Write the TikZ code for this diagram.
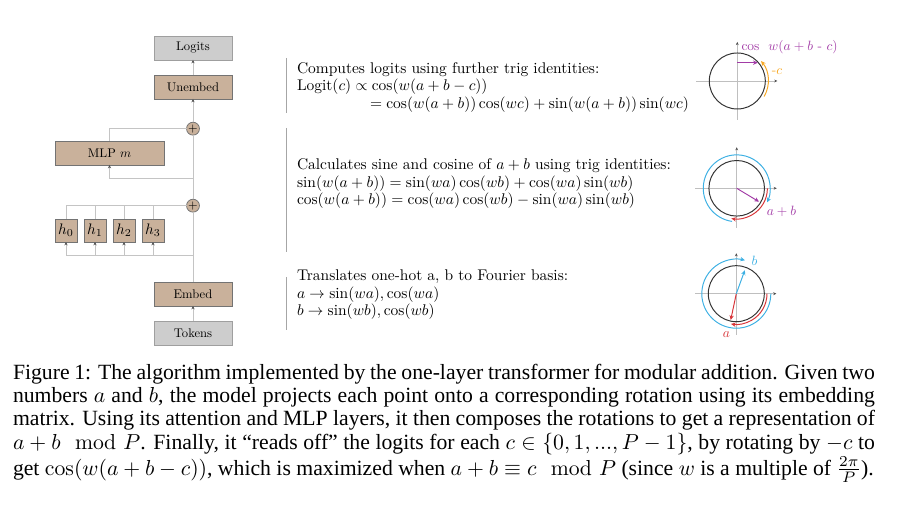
\documentclass[tikz,border=0pt]{standalone}
\usepackage{amsmath,amssymb}
\usepackage{graphicx}
\usepackage{fontspec}
\newfontfamily\capfont{Liberation Serif}
\usetikzlibrary{arrows.meta,calc}
\definecolor{boxtan}{HTML}{C9B19B}
\definecolor{boxgray}{HTML}{CDCDCD}
\definecolor{lineg}{HTML}{C4C4C4}
\definecolor{cpurple}{HTML}{A23BA6}
\definecolor{cblue}{HTML}{3DB0E3}
\definecolor{cred}{HTML}{D8363A}
\definecolor{corange}{HTML}{F7A823}
\newcommand{\bx}[1]{\scalebox{0.58}{\fontsize{10}{12}\selectfont #1}}
\newcommand{\hx}[1]{\scalebox{0.7}{\fontsize{10}{12}\selectfont #1}}
\newcommand{\tx}[1]{\scalebox{0.713}{\fontsize{10}{12}\selectfont #1}}
\newcommand{\lx}[1]{\scalebox{0.62}{\fontsize{10}{12}\selectfont #1}}
\begin{document}
\begin{tikzpicture}[x=0.4606pt,y=-0.4606pt,
  every node/.style={inner sep=0pt,outer sep=0pt},
  graybox/.style={draw=gray!75,fill=boxgray,line width=0.35pt,minimum width=35.9pt,minimum height=11.05pt},
  tanbox/.style={draw=black!55,fill=boxtan,line width=0.35pt,minimum width=35.9pt,minimum height=11.05pt},
  hbox/.style={tanbox,minimum width=10.1pt,minimum height=10.6pt},
  plusc/.style={circle,draw=black!55,fill=boxtan,line width=0.35pt,minimum size=5.1pt,font=\fontsize{4.5}{4.5}\selectfont},
  conn/.style={draw=lineg,line width=0.35pt},
  arr/.style={-{Stealth[length=1.5pt,width=1.4pt,color=black!70]}},
  txt/.style={anchor=base west},
  sepline/.style={draw=black!35,line width=0.4pt},
  axisl/.style={draw=black!25,line width=0.3pt,-{Stealth[length=1.4pt,width=1.3pt,color=black!70]}},
  ring/.style={draw=black!80,line width=0.45pt},
  rot/.style={line width=0.45pt,-{Stealth[length=2.2pt,width=2pt]}}
]
\useasboundingbox (0,0) rectangle (923,523);

% ---- left column ----
\node[graybox] (logits) at (193,48) {\bx{Logits}};
\node[tanbox] (unembed) at (193,87) {\bx{Unembed}};
\node[plusc] (p1) at (193,128.7) {+};
\node[tanbox,minimum width=50.2pt] (mlp) at (109.5,153) {\bx{MLP $m$}};
\node[plusc] (p2) at (193,205.7) {+};
\foreach \i/\x in {0/66,1/95,2/124,3/153}
  \node[hbox] (h\i) at (\x,230.5) {\hx{$h_{\i}$}};
\node[tanbox] (embed) at (193,294) {\bx{Embed}};
\node[graybox] (tokens) at (193,333) {\bx{Tokens}};

\coordinate (br1) at (193,255.7);
\coordinate (br2) at (193,178);
\draw[conn,arr] (tokens) -- (embed);
\draw[conn] (embed) -- (p2);
\draw[conn] (br1) -- (h0.south |- br1);
\foreach \i in {0,...,3} \draw[conn,arr] (h\i.south |- br1) -- (h\i.south);
\foreach \i in {0,...,3} \draw[conn] (h\i.north) -- (h\i.north |- p2);
\draw[conn] (h0.north |- p2) -- (p2.west);
\draw[conn] (p2) -- (p1);
\draw[conn,arr] (br2) -| (mlp.south);
\draw[conn] (mlp.north) |- (p1.west);
\draw[conn,arr] (p1) -- (unembed);
\draw[conn,arr] (unembed) -- (logits);

% ---- separators ----
\draw[sepline] (286.5,58) -- (286.5,113);
\draw[sepline] (286.5,128) -- (286.5,252);
\draw[sepline] (286.5,277) -- (286.5,330);

% ---- text blocks ----
\node[txt] (t11) at (297,73.3) {\tx{Computes logits using further trig identities:}};
\node[txt] (t12) at (297,90.8) {\tx{Logit$(c)\propto\cos(w(a+b-c))$}};
\node[txt] (t13) at (370,108.3) {\tx{$=\cos(w(a+b))\cos(wc)+\sin(w(a+b))\sin(wc)$}};
\node[txt] (t21) at (297,170) {\tx{Calculates sine and cosine of $a+b$ using trig identities:}};
\node[txt] (t22) at (297,187.5) {\tx{$\sin(w(a+b))=\sin(wa)\cos(wb)+\cos(wa)\sin(wb)$}};
\node[txt] (t23) at (297,205) {\tx{$\cos(w(a+b))=\cos(wa)\cos(wb)-\sin(wa)\sin(wb)$}};
\node[txt] (t31) at (297,280.7) {\tx{Translates one-hot a, b to Fourier basis:}};
\node[txt] (t32) at (297,298.2) {\tx{$a\to\sin(wa),\cos(wa)$}};
\node[txt] (t33) at (297,315.7) {\tx{$b\to\sin(wb),\cos(wb)$}};

% ---- circle 1 ----
\coordinate (c1) at (737.3,81);
\draw[axisl] ($(c1)+(-41,0)$) -- ($(c1)+(40,0)$);
\draw[axisl] ($(c1)+(0,39)$) -- ($(c1)+(0,-39)$);
\draw[ring] (c1) circle[radius=12.9pt];
\draw[rot,cpurple] ($(c1)+(0,-18.3)$) -- ($(c1)+(20.5,-18.3)$);
\draw[rot,corange] ($(c1)+(-30:14.28pt)$) arc[start angle=-30,end angle=40,radius=14.28pt];
\node[text=cpurple,anchor=base west] (lab1) at (741.5,50.5) {\lx{$\cos\ \,w(a+b$ - $c)$}};
\node[text=corange] (labc) at (777,71.5) {\lx{-$c$}};

% ---- circle 2 ----
\coordinate (c2) at (736.7,188.3);
\draw[axisl] ($(c2)+(-41.7,0)$) -- ($(c2)+(40,0)$);
\draw[axisl] ($(c2)+(0,39.7)$) -- ($(c2)+(0,-41)$);
\draw[ring] (c2) circle[radius=12.8pt];
\draw[rot,cred] ($(c2)+(0:14.14pt)$) arc[start angle=0,end angle=-100,radius=14.14pt];
\draw[rot,cblue] ($(c2)+(-98:15.4pt)$) arc[start angle=-98,end angle=-385,radius=15.4pt];
\draw[rot,cpurple] (c2) -- ++(-31:12pt);
\node[text=cpurple] (lab2) at (781.5,211.5) {\lx{$a+b$}};

% ---- circle 3 ----
\coordinate (c3) at (736.3,293.7);
\draw[axisl] ($(c3)+(-41.3,0)$) -- ($(c3)+(40,0)$);
\draw[axisl] ($(c3)+(0,41)$) -- ($(c3)+(0,-40.4)$);
\draw[ring] (c3) circle[radius=12.9pt];
\draw[rot,cred] ($(c3)+(0:14.14pt)$) arc[start angle=0,end angle=-100,radius=14.14pt];
\draw[rot,cblue] ($(c3)+(0:15.9pt)$) arc[start angle=0,end angle=-284.5,radius=15.9pt];
\draw[rot,cred] (c3) -- ++(-102:12.4pt);
\draw[rot,cblue] (c3) -- ++(70:11.5pt);
\node[text=cblue] (labb) at (754.5,261) {\lx{$b$}};
\node[text=cred] (laba) at (726.5,334.5) {\lx{$a$}};

% ---- caption ----
\node[anchor=base west] (cap) at (13,379.3) {\parbox[t]{397pt}{\fontsize{10}{10.75}\capfont
Figure 1: The algorithm implemented by the one-layer transformer for modular addition. Given two\linebreak
numbers $a$ and $b$, the model projects each point onto a corresponding rotation using its embedding\linebreak
matrix. Using its attention and MLP layers, it then composes the rotations to get a representation of\linebreak
$a+b \mod P$. Finally, it “reads off” the logits for each $c\in\{0,1,...,P-1\}$, by rotating by $-c$ to\linebreak
get $\cos(w(a+b-c))$, which is maximized when $a+b\equiv c \mod P$ (since $w$ is a multiple of $\frac{2\pi}{P}$).}};
\end{tikzpicture}
\end{document}
